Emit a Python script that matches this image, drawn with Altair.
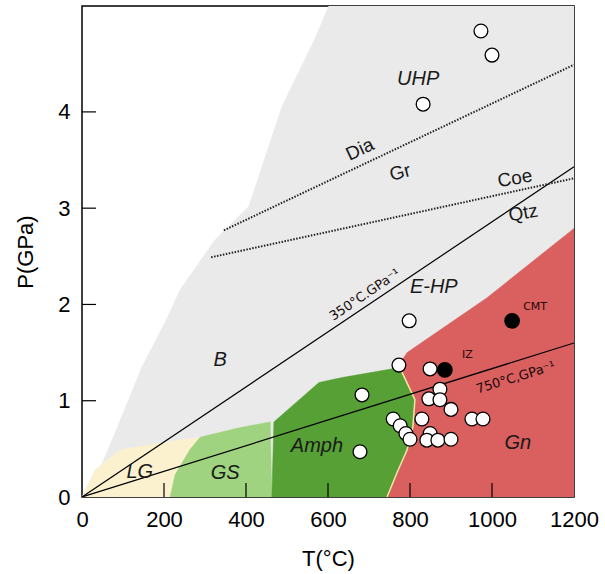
import altair as alt
import pandas as pd

# ---------------- data ----------------
# facies fields (T in °C, P in GPa), polygon vertices in drawing order
GRAY_T = [602, 568, 488, 407, 324, 239, 202, 146, 80, 32, 0, 1200, 1200]
GRAY_P = [5.1, 4.76, 4.06, 3.02, 2.67, 2.15, 1.81, 1.35, 0.66, 0.18, 0, 0, 5.1]

LG_T = [0, 32, 93, 190, 288, 263, 227, 215]
LG_P = [0, 0.28, 0.49, 0.56, 0.62, 0.49, 0.23, 0]

GS_T = [215, 227, 263, 288, 373, 459, 463]
GS_P = [0, 0.23, 0.49, 0.62, 0.71, 0.78, 0]

AMPH_T = [463, 468, 578, 634, 768, 780, 812, 807, 793, 768, 744]
AMPH_P = [0, 0.78, 1.19, 1.24, 1.34, 1.30, 1.01, 0.73, 0.49, 0.25, 0]

GN_T = [744, 768, 793, 807, 812, 780, 768, 793, 988, 1200, 1200]
GN_P = [0, 0.25, 0.49, 0.73, 1.01, 1.30, 1.34, 1.50, 2.07, 2.79, 0]

AMPH_GN_T = [768, 780, 812, 807, 793, 768, 744]
AMPH_GN_P = [1.34, 1.30, 1.01, 0.73, 0.49, 0.25, 0]

# geotherms
G350_T = [0, 1200]
G350_P = [0, 3.43]
G750_T = [0, 1200]
G750_P = [0, 1.60]

# reaction lines (dotted)
DIA_T = [346, 1200]
DIA_P = [2.77, 4.49]
COE_T = [315, 1200]
COE_P = [2.49, 3.31]

# samples
OPEN_T = [973, 1000, 832, 798, 773, 849, 683, 873, 846, 873, 900, 759, 829,
          951, 978, 776, 790, 800, 849, 841, 868, 900, 678]
OPEN_P = [4.84, 4.59, 4.08, 1.83, 1.37, 1.33, 1.06, 1.12, 1.02, 1.01, 0.91,
          0.81, 0.81, 0.81, 0.81, 0.74, 0.66, 0.60, 0.66, 0.59, 0.59, 0.60, 0.47]
FILLED_T = [1049, 885]
FILLED_P = [1.83, 1.32]
FILLED_NAME = ["CMT", "IZ"]
FILLED_LABEL_T = [1076, 927]
FILLED_LABEL_P = [1.97, 1.47]

# field labels
ITALIC_TEXT = ["UHP", "E-HP", "B", "LG", "GS", "Amph", "Gn"]
ITALIC_T = [820, 858, 337, 141, 349, 573, 1063]
ITALIC_P = [4.34, 2.18, 1.42, 0.26, 0.25, 0.53, 0.56]

PHASE_TEXT = ["Dia", "Gr", "Coe", "Qtz"]
PHASE_T = [678, 776, 1056, 1076]
PHASE_P = [3.61, 3.37, 3.31, 2.95]
PHASE_ANGLE = [335, 345, 350, 350]

GRAD_TEXT = ["350°C.GPa⁻¹", "750°C,GPa⁻¹"]
GRAD_T = [690, 1058]
GRAD_P = [2.10, 1.24]
GRAD_ANGLE = [326, 343]

X_TICKS = [200, 400, 600, 800, 1000]
Y_TICKS = [1, 2, 3, 4]
X_LABELS = [0, 200, 400, 600, 800, 1000, 1200]
Y_LABELS = [0, 1, 2, 3, 4]

# ---------------- chart ----------------
W, H = 492, 491
FONT = "Liberation Sans"

xs = alt.Scale(domain=[0, 1200], nice=False, zero=False)
ys = alt.Scale(domain=[0, 5.1], nice=False, zero=False)
X = alt.X("t:Q", scale=xs, title="T(°C)",
          axis=alt.Axis(values=X_LABELS, format="d", ticks=False, domain=False, grid=False,
                        labelPadding=12, titlePadding=18, labelFlush=False))
Y = alt.Y("p:Q", scale=ys, title="P(GPa)",
          axis=alt.Axis(values=Y_LABELS, format="d", ticks=False, domain=False, grid=False,
                        labelPadding=12, titlePadding=20, labelFlush=False))


def df_of(ts, ps, **extra):
    d = {"t": ts, "p": ps, "i": list(range(len(ts)))}
    d.update(extra)
    return pd.DataFrame(d)


def poly(ts, ps, color):
    return alt.Chart(df_of(ts, ps)).mark_line(
        fill=color, stroke=color, strokeWidth=0.5, clip=True
    ).encode(x=X, y=Y, order="i:Q")


def line(ts, ps, width=1.2, dash=None, color="black"):
    kw = dict(color=color, strokeWidth=width, clip=True)
    if dash:
        kw["strokeDash"] = dash
    return alt.Chart(df_of(ts, ps)).mark_line(**kw).encode(x=X, y=Y, order="i:Q")


layers = [
    poly(GRAY_T, GRAY_P, "#eaeaea"),
    poly(LG_T, LG_P, "#fbf1cf"),
    poly(GS_T, GS_P, "#9fd37f"),
    poly(AMPH_T, AMPH_P, "#56a035"),
    poly(GN_T, GN_P, "#d9605f"),
    line(AMPH_GN_T, AMPH_GN_P, width=1.5, color="#efe6a6"),
    line(G350_T, G350_P, width=1.2),
    line(G750_T, G750_P, width=1.2),
    line(DIA_T, DIA_P, width=2, dash=[1.5, 1.5], color="#222"),
    line(COE_T, COE_P, width=2, dash=[1.5, 1.5], color="#222"),
]

# inward tick marks
layers.append(
    alt.Chart(pd.DataFrame({"t": X_TICKS})).mark_rule(color="black", strokeWidth=1.2)
    .encode(x=X, y=alt.value(H), y2=alt.value(H - 14))
)
layers.append(
    alt.Chart(pd.DataFrame({"p": Y_TICKS})).mark_rule(color="black", strokeWidth=1.2)
    .encode(y=Y, x=alt.value(0), x2=alt.value(14))
)

# samples
layers.append(
    alt.Chart(df_of(FILLED_T, FILLED_P)).mark_point(
        filled=True, fill="black", stroke="black", size=190, opacity=1
    ).encode(x=X, y=Y)
)
layers.append(
    alt.Chart(df_of(OPEN_T, OPEN_P)).mark_point(
        filled=True, fill="white", stroke="black", strokeWidth=1.3, size=190, opacity=1
    ).encode(x=X, y=Y)
)
layers.append(
    alt.Chart(df_of(FILLED_LABEL_T, FILLED_LABEL_P, name=FILLED_NAME)).mark_text(
        font="DejaVu Sans", fontSize=11, align="left", baseline="middle", color="#2a0505"
    ).encode(x=X, y=Y, text="name:N")
)

# field labels
layers.append(
    alt.Chart(df_of(ITALIC_T, ITALIC_P, txt=ITALIC_TEXT)).mark_text(
        font=FONT, fontSize=20, fontStyle="italic", align="center", baseline="middle",
        color="#1a1a1a"
    ).encode(x=X, y=Y, text="txt:N")
)
layers.append(
    alt.Chart(df_of(PHASE_T, PHASE_P, txt=PHASE_TEXT, ang=PHASE_ANGLE)).mark_text(
        font=FONT, fontSize=19, align="center", baseline="middle", color="#1a1a1a"
    ).encode(x=X, y=Y, text="txt:N", angle=alt.Angle("ang:Q", scale=None))
)
layers.append(
    alt.Chart(df_of(GRAD_T, GRAD_P, txt=GRAD_TEXT, ang=GRAD_ANGLE)).mark_text(
        font="DejaVu Sans", fontSize=13, align="center", baseline="middle", color="#1a0a0a"
    ).encode(x=X, y=Y, text="txt:N", angle=alt.Angle("ang:Q", scale=None))
)

chart = alt.layer(*layers).properties(
    width=W, height=H,
    autosize=alt.AutoSizeParams(type="none"),
    padding={"left": 82, "top": 6, "right": 31, "bottom": 77},
    background="white",
).configure_view(
    stroke="black", strokeWidth=1.5
).configure_axis(
    labelFont=FONT, labelFontSize=22, labelColor="black",
    titleFont=FONT, titleFontSize=22, titleFontWeight="normal", titleColor="black",
)

chart.save("out.html", embed_options={"renderer": "svg", "actions": False})
